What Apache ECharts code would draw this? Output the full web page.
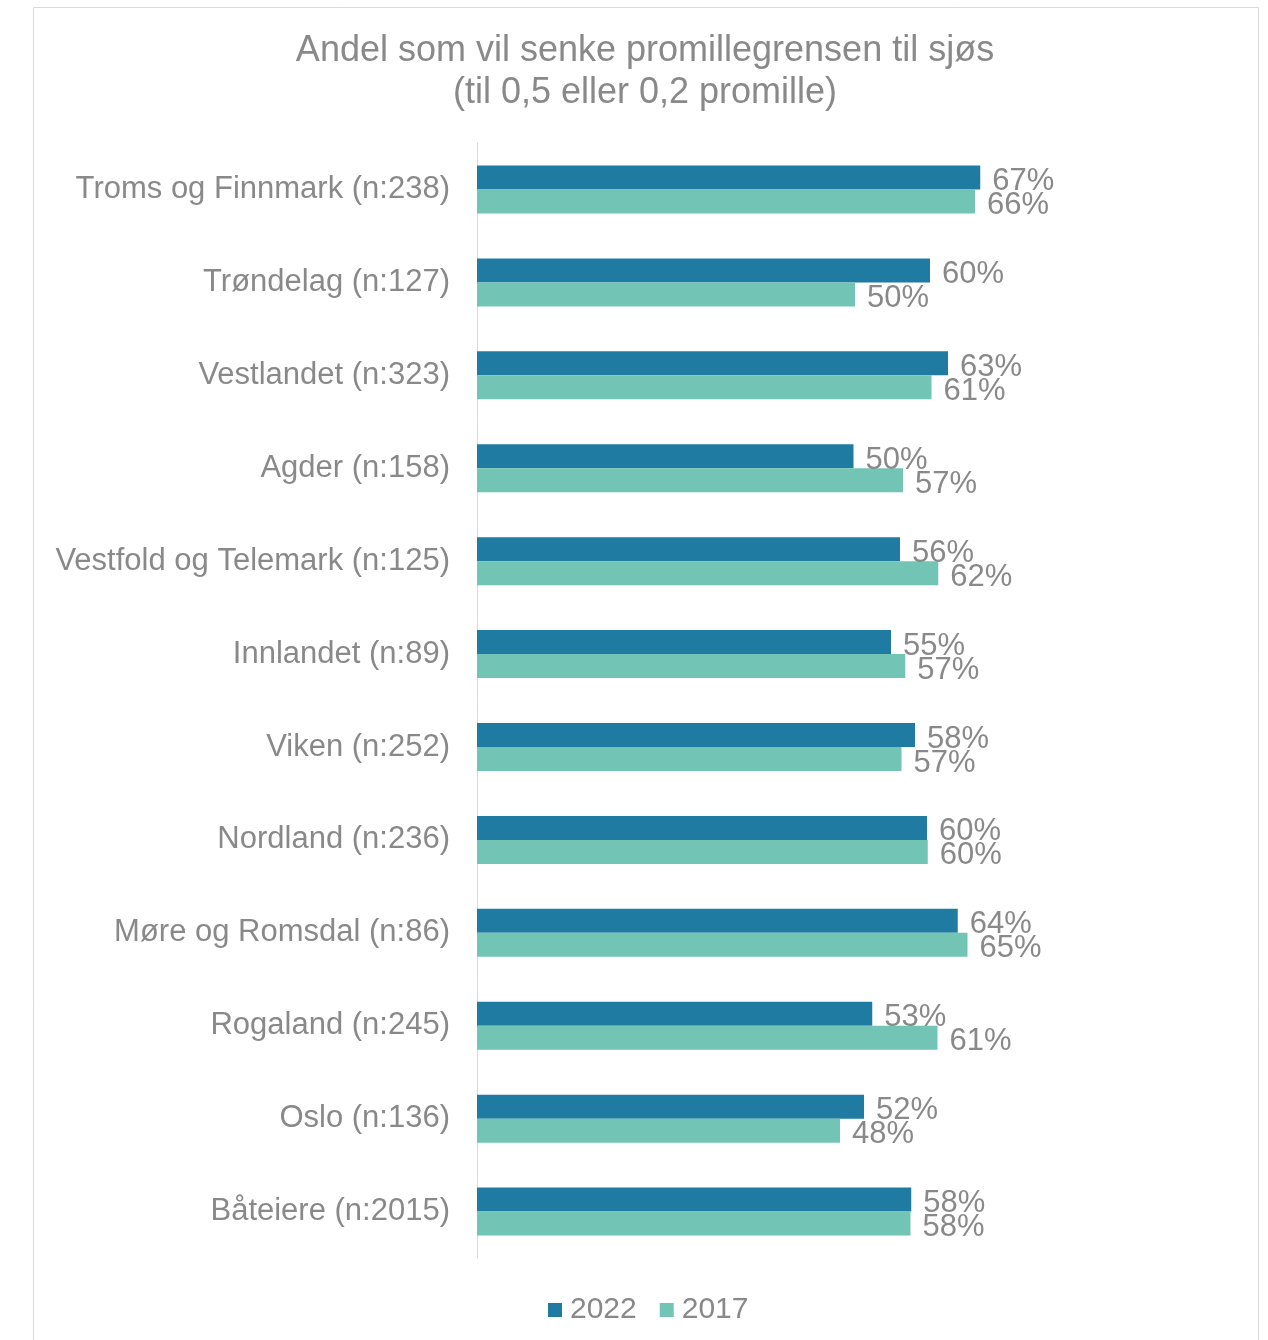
<!DOCTYPE html>
<html>
<head>
<meta charset="utf-8">
<script src="https://cdn.jsdelivr.net/npm/echarts@6/dist/echarts.min.js"></script>
<style>
html,body{margin:0;padding:0;background:#fff;}
#c{width:1268px;height:1340px;}
</style>
</head>
<body>
<div id="c"></div>
<script>
const categories = [
  'Troms og Finnmark (n:238)',
  'Trøndelag (n:127)',
  'Vestlandet (n:323)',
  'Agder (n:158)',
  'Vestfold og Telemark (n:125)',
  'Innlandet (n:89)',
  'Viken (n:252)',
  'Nordland (n:236)',
  'Møre og Romsdal (n:86)',
  'Rogaland (n:245)',
  'Oslo (n:136)',
  'Båteiere (n:2015)'
];
const values2022 = [67.1, 60.4, 62.8, 50.2, 56.4, 55.2, 58.4, 60.0, 64.1, 52.7, 51.6, 57.9];
const values2017 = [66.4, 50.4, 60.6, 56.8, 61.5, 57.1, 56.6, 60.1, 65.4, 61.4, 48.4, 57.8];
const seriesNames = ['2022', '2017'];
const titleLines = ['Andel som vil senke promillegrensen til sjøs', '(til 0,5 eller 0,2 promille)'];

const textColor = '#898989';
const font = 'Liberation Sans, Arial, sans-serif';
const chart = echarts.init(document.getElementById('c'));
const labelCfg = {
  show: true, position: 'right', distance: 12, offset: [0, 4],
  color: textColor, fontSize: 31, fontFamily: font,
  formatter: p => Math.round(p.value) + '%'
};
chart.setOption({
  animation: false,
  backgroundColor: '#fff',
  graphic: [{
    type: 'rect', shape: {x: 33.5, y: 7.5, width: 1225, height: 1345},
    style: {fill: 'none', stroke: '#d9d9d9', lineWidth: 1}, silent: true, z: -1
  }],
  title: {
    text: titleLines.join('\n'),
    left: 640, top: 25, textAlign: 'center',
    textStyle: {color: textColor, fontSize: 36, fontWeight: 'normal', fontFamily: font, lineHeight: 42}
  },
  legend: {
    data: seriesNames, bottom: 10, left: 543,
    itemWidth: 14, itemHeight: 14, itemGap: 23, icon: 'rect',
    textStyle: {color: textColor, fontSize: 30, fontFamily: font, padding: [0,0,0,3]}
  },
  grid: {left: 477, right: 41, top: 143, bottom: 82, containLabel: false},
  xAxis: {
    type: 'value', min: 0, max: 100, show: false, splitLine: {show: false}
  },
  yAxis: {
    type: 'category', data: categories, inverse: true,
    axisLine: {show: true, lineStyle: {color: '#d9d9d9', width: 1}},
    axisTick: {show: false},
    axisLabel: {color: textColor, fontSize: 31, fontFamily: font, margin: 27}
  },
  series: [
    {name: seriesNames[0], type: 'bar', data: values2022, barWidth: 24, barGap: '0%',
     itemStyle: {color: '#1F7BA2'}, label: labelCfg},
    {name: seriesNames[1], type: 'bar', data: values2017, barWidth: 24, barGap: '0%',
     itemStyle: {color: '#72C4B4'}, label: labelCfg}
  ]
});
</script>
</body>
</html>
